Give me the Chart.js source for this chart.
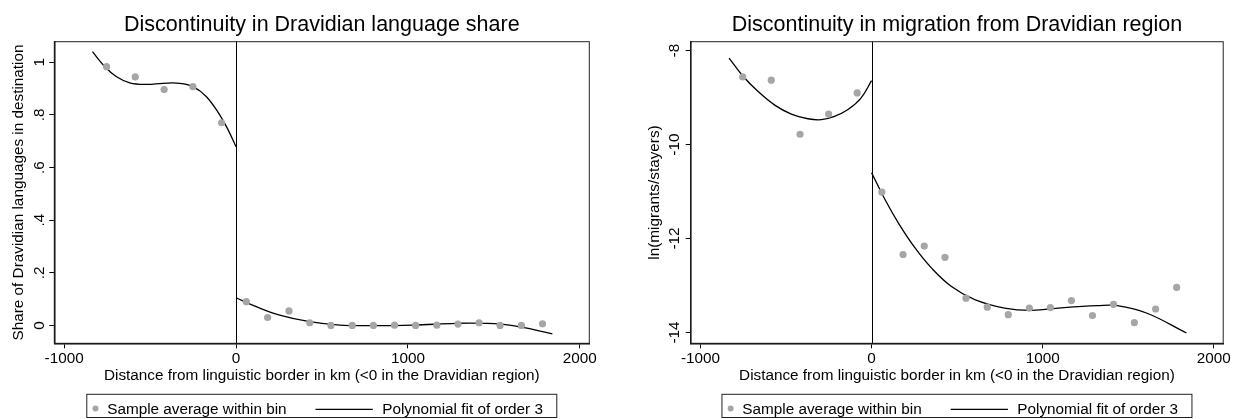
<!DOCTYPE html>
<html>
<head>
<meta charset="utf-8">
<title>Discontinuity at the Dravidian linguistic border</title>
<script src="https://cdn.jsdelivr.net/npm/chart.js@4.4.1/dist/chart.umd.min.js"></script>
<style>
  html, body { margin: 0; padding: 0; background: #fff; }
  #wrap { display: flex; width: 1234px; height: 419px; }
  canvas { display: block; }
</style>
</head>
<body>
<div id="wrap">
  <canvas id="shareChart" width="617" height="419"></canvas>
  <canvas id="migChart" width="617" height="419"></canvas>
</div>
<script>
// bin midpoints, km from the border (same bins in both panels)
const binKm = [-753, -586, -418, -251, -84, 60, 184, 308, 429, 552, 676, 799, 922, 1045, 1168, 1291, 1414, 1536, 1660, 1783];

// left panel: share of Dravidian languages
const shareBins = [0.983, 0.944, 0.896, 0.907, 0.770, 0.090, 0.030, 0.055, 0.010, 0.000, 0.000, 0.000, 0.001, 0.000, 0.001, 0.005, 0.010, 0.000, 0.000, 0.006];
const shareFitWestKm = [-835, -763, -695, -618, -521, -424, -327, -250, -172, -95, -46, 0];
const shareFitWest = [1.040, 0.983, 0.945, 0.922, 0.916, 0.920, 0.920, 0.907, 0.869, 0.800, 0.743, 0.679];
const shareFitEastKm = [0, 118, 254, 428, 603, 797, 1029, 1281, 1436, 1611, 1840];
const shareFitEast = [0.105, 0.071, 0.039, 0.014, 0.001, -0.001, 0.001, 0.008, 0.008, -0.001, -0.032];

// right panel: ln(migrants/stayers)
const migBins = [-8.56, -8.63, -9.78, -9.35, -8.90, -11.01, -12.34, -12.16, -12.40, -13.27, -13.46, -13.62, -13.48, -13.47, -13.32, -13.64, -13.40, -13.79, -13.50, -13.04];
const migFitWestKm = [-833, -750, -663, -566, -469, -372, -294, -217, -140, -62, 0];
const migFitWest = [-8.16, -8.55, -8.87, -9.16, -9.35, -9.45, -9.47, -9.40, -9.26, -9.01, -8.64];
const migFitEastKm = [0, 80, 157, 254, 351, 467, 603, 777, 933, 1126, 1320, 1436, 1610, 1840];
const migFitEast = [-10.60, -11.18, -11.67, -12.20, -12.63, -13.02, -13.30, -13.48, -13.53, -13.47, -13.43, -13.43, -13.59, -14.01];

// ticks
const distTicks = [-1000, 0, 1000, 2000];
const distTickLabels = ["-1000", "0", "1000", "2000"];
const shareTicks = [0, 0.2, 0.4, 0.6, 0.8, 1];
const shareTickLabels = ["0", ".2", ".4", ".6", ".8", "1"];
const migTicks = [-14, -12, -10, -8];
const migTickLabels = ["-14", "-12", "-10", "-8"];

const FONT = "'Liberation Sans', Arial, Helvetica, sans-serif";
const FS = 15.3;
Chart.defaults.font.family = FONT;
Chart.defaults.color = "#000";

const pairs = (xs, ys) => xs.map((x, i) => ({ x: x, y: ys[i] }));

// Stata-ish frame, border line, rotated y labels and boxed legend
const stataBits = {
  id: "stataBits",
  beforeDatasetsDraw(chart) {
    const { ctx, chartArea: a, scales } = chart;
    ctx.save();
    ctx.strokeStyle = "#000";
    ctx.lineWidth = 1;
    const x0 = Math.round(scales.x.getPixelForValue(0)) + 0.5;
    ctx.beginPath();
    ctx.moveTo(x0, a.top);
    ctx.lineTo(x0, a.bottom);
    ctx.stroke();
    ctx.strokeStyle = "#222";
    ctx.strokeRect(a.left, a.top, a.right - a.left, a.bottom - a.top);
    ctx.restore();
  },
  afterDraw(chart, args, opts) {
    const { ctx, chartArea: a, scales } = chart;
    ctx.save();
    ctx.fillStyle = "#000";
    ctx.font = FS + "px " + FONT;
    ctx.textAlign = "center";
    ctx.textBaseline = "middle";
    const lx = a.left - opts.labelGap;
    opts.ticks.forEach((v, i) => {
      const py = scales.y.getPixelForValue(v);
      ctx.save();
      ctx.translate(lx, py);
      ctx.rotate(-Math.PI / 2);
      ctx.fillText(opts.labels[i], 0, 0);
      ctx.restore();
    });

    // legend box
    const cx = (a.left + a.right) / 2;
    const top = 394.3, bottom = 417.5, base = 413.8;
    ctx.strokeStyle = "#222";
    ctx.lineWidth = 1;
    ctx.strokeRect(cx - 235, top, 470, bottom - top);
    ctx.fillStyle = "#a6a6a6";
    ctx.beginPath();
    ctx.arc(cx - 226.3, 408.5, 3, 0, Math.PI * 2);
    ctx.fill();
    ctx.strokeStyle = "#000";
    ctx.lineWidth = 1.2;
    ctx.beginPath();
    ctx.moveTo(cx - 6.3, 409.3);
    ctx.lineTo(cx + 51, 409.3);
    ctx.stroke();
    ctx.fillStyle = "#000";
    ctx.textAlign = "left";
    ctx.textBaseline = "alphabetic";
    ctx.fillText("Sample average within bin", cx - 214.6, base);
    ctx.fillText("Polynomial fit of order 3", cx + 60.4, base);
    ctx.restore();
  }
};

function makePanel(id, p) {
  const axisGrid = { display: true, drawOnChartArea: false, drawTicks: true, tickLength: 5, color: "#000", lineWidth: 1 };
  const axisBorder = { display: true, color: "#000", width: 1.5 };
  return new Chart(document.getElementById(id), {
    type: "scatter",
    data: {
      datasets: [
        {
          label: "Sample average within bin",
          data: pairs(binKm, p.bins),
          pointRadius: 3.6,
          pointBackgroundColor: "#a6a6a6",
          pointBorderWidth: 0,
          showLine: false
        },
        {
          label: "Polynomial fit of order 3",
          data: pairs(p.westKm, p.west),
          showLine: true,
          borderColor: "#000",
          borderWidth: 1.3,
          pointRadius: 0,
          tension: 0.4
        },
        {
          label: "Polynomial fit of order 3 (east)",
          data: pairs(p.eastKm, p.east),
          showLine: true,
          borderColor: "#000",
          borderWidth: 1.3,
          pointRadius: 0,
          tension: 0.4
        }
      ]
    },
    options: {
      responsive: false,
      animation: false,
      layout: { padding: { left: 0, right: p.padRight, top: 0, bottom: 31.7 } },
      plugins: {
        legend: { display: false },
        tooltip: { enabled: false },
        title: {
          display: true,
          text: p.title,
          fullSize: false,
          color: "#000",
          font: { size: 21.5, weight: "normal", lineHeight: 1.2 },
          padding: { top: 12, bottom: 3.9 }
        },
        stataBits: { ticks: p.yTicks, labels: p.yLabels, labelGap: p.labelGap }
      },
      scales: {
        x: {
          type: "linear",
          min: -1057,
          max: 2055,
          afterBuildTicks: (s) => { s.ticks = distTicks.map((v) => ({ value: v })); },
          afterFit: (s) => { s.height = 44; },
          grid: axisGrid,
          border: axisBorder,
          ticks: {
            autoSkip: false,
            maxRotation: 0,
            padding: 3,
            color: "#000",
            font: { size: FS, lineHeight: 1 },
            callback: (v) => distTickLabels[distTicks.indexOf(v)]
          },
          title: {
            display: true,
            text: "Distance from linguistic border in km (<0 in the Dravidian region)",
            color: "#000",
            font: { size: FS, lineHeight: 1 },
            padding: { top: 0, bottom: 3.95 }
          }
        },
        y: {
          type: "linear",
          min: p.yMin,
          max: p.yMax,
          afterBuildTicks: (s) => { s.ticks = p.yTicks.map((v) => ({ value: v })); },
          afterFit: (s) => { s.width = p.axisWidth; },
          grid: axisGrid,
          border: axisBorder,
          ticks: { display: false },
          title: {
            display: true,
            text: p.yTitle,
            color: "#000",
            font: { size: FS, lineHeight: 1 },
            padding: { top: p.yTitlePad, bottom: 0 }
          }
        }
      }
    },
    plugins: [stataBits]
  });
}

makePanel("shareChart", {
  title: "Discontinuity in Dravidian language share",
  yTitle: "Share of Dravidian languages in destination",
  bins: shareBins,
  westKm: shareFitWestKm, west: shareFitWest,
  eastKm: shareFitEastKm, east: shareFitEast,
  yMin: -0.068, yMax: 1.078,
  yTicks: shareTicks, yLabels: shareTickLabels,
  axisWidth: 54.3, padRight: 27.7, yTitlePad: 11.15, labelGap: 15
});

makePanel("migChart", {
  title: "Discontinuity in migration from Dravidian region",
  yTitle: "ln(migrants/stayers)",
  bins: migBins,
  westKm: migFitWestKm, west: migFitWest,
  eastKm: migFitEastKm, east: migFitEast,
  yMin: -14.23, yMax: -7.81,
  yTicks: migTicks, yLabels: migTickLabels,
  axisWidth: 73.7, padRight: 7.7, yTitlePad: 29.85, labelGap: 16.2
});
</script>
</body>
</html>
